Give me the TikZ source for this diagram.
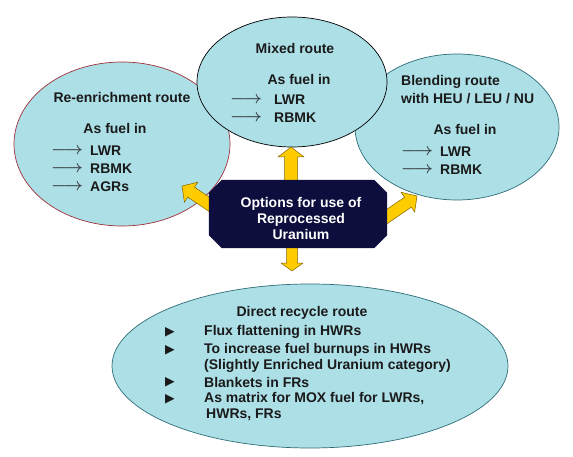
\documentclass[tikz,border=0pt]{standalone}
\usepackage{fontspec}
\setmainfont{Liberation Sans}
\newfontfamily\djv{DejaVu Sans}
\usetikzlibrary{shapes.geometric,calc}
\definecolor{fillc}{HTML}{ADDFE7}
\definecolor{redb}{HTML}{A0303A}
\definecolor{tealb}{HTML}{2E6E78}
\definecolor{navy}{HTML}{0E0E3E}
\definecolor{yel}{HTML}{FFCC00}
\definecolor{yelb}{HTML}{806600}
\definecolor{textc}{HTML}{1A1A1A}
\definecolor{glyc}{HTML}{3F4A4E}
\newcommand\fatarrow[5]{% tail, tip, halfshaft, halfhead, headlen
  \coordinate (#1h) at ($(#2)!#5pt!(#1)$);
  \draw[fatarr] ($(#1)!#3pt!90:(#2)$) -- ($(#1h)!#3pt!90:(#2)$) -- ($(#1h)!#4pt!90:(#2)$) -- (#2)
    -- ($(#1h)!#4pt!-90:(#2)$) -- ($(#1h)!#3pt!-90:(#2)$) -- ($(#1)!#3pt!-90:(#2)$) -- cycle;}
\begin{document}
\begin{tikzpicture}[x=1pt,y=-1pt,
  font=\fontsize{14}{16}\selectfont\bfseries,
  route/.style={ellipse, fill=fillc, line width=0.7pt, inner sep=0pt},
  txt/.style={text=textc, inner sep=0pt},
  lft/.style={txt, anchor=west},
  gly/.style={text=glyc, inner sep=0pt, anchor=west, font=\fontsize{16}{16}\selectfont\boldmath},
  tri/.style={text=textc, inner sep=0pt, font=\djv\fontsize{12.5}{12.5}\selectfont},
  fatarr/.style={fill=yel, draw=yelb, line width=0.5pt, line join=miter}]
\useasboundingbox (0,0) rectangle (573,457);
\fill[white] (0,0) rectangle (573,457);

% ellipses
\node[route, draw=redb, minimum width=216pt, minimum height=164pt] (re) at (122,144) {};
\node[route, draw=tealb, minimum width=204pt, minimum height=146pt] (bl) at (457,127) {};
\node[route, draw=black, minimum width=190pt, minimum height=130pt] (mx) at (292,82) {};
\node[route, draw=tealb, minimum width=396pt, minimum height=164pt] (dr) at (310,366) {};

% arrows
\coordinate (upS) at (291,188); \coordinate (upT) at (291,147);
\coordinate (dnS) at (292,242); \coordinate (dnT) at (292,271);
\coordinate (lfS) at (222,213); \coordinate (lfT) at (182,186);
\coordinate (rtS) at (376,224); \coordinate (rtT) at (417,196);
\fatarrow{upS}{upT}{6.5}{13}{10}
\fatarrow{dnS}{dnT}{5.5}{11}{8}
\fatarrow{lfS}{lfT}{6}{12}{11}
\fatarrow{rtS}{rtT}{6}{12}{11}

% octagon
\node[inner sep=0pt, minimum width=178pt, minimum height=68pt] (opt) at (298,214) {};
\fill[navy] ($(opt.north west)+(13,0)$) -- ($(opt.north east)+(-13,0)$) -- ($(opt.north east)+(0,13)$)
  -- ($(opt.south east)+(0,-13)$) -- ($(opt.south east)+(-13,0)$) -- ($(opt.south west)+(13,0)$)
  -- ($(opt.south west)+(0,-13)$) -- ($(opt.north west)+(0,13)$) -- cycle;
\node[text=white, align=center, inner sep=0pt] (optt) at (301,218) {Options for use of\\Reprocessed\\Uranium};

% re-enrichment
\node[txt] (reT) at (122,97) {Re-enrichment route};
\node[txt] (reA) at (115,128) {As fuel in};
\node[gly] (reg1) at (51,151) {\(\longrightarrow\)};
\node[gly] (reg2) at (51,169) {\(\longrightarrow\)};
\node[gly] (reg3) at (51,187) {\(\longrightarrow\)};
\node[lft] (re1) at (90,151) {LWR};
\node[lft] (re2) at (90,169) {RBMK};
\node[lft] (re3) at (90,187) {AGRs};

% mixed
\node[txt] (mxT) at (295,48) {Mixed route};
\node[txt] (mxA) at (299,79) {As fuel in};
\node[gly] (mxg1) at (230,100) {\(\longrightarrow\)};
\node[gly] (mxg2) at (230,118) {\(\longrightarrow\)};
\node[lft] (mx1) at (274,100) {LWR};
\node[lft] (mx2) at (274,118) {RBMK};

% blending
\node[lft] (blT1) at (401,82) {Blending route};
\node[lft] (blT2) at (401,99) {with HEU / LEU / NU};
\node[txt] (blA) at (465,129) {As fuel in};
\node[gly] (blg1) at (401,152) {\(\longrightarrow\)};
\node[gly] (blg2) at (401,170) {\(\longrightarrow\)};
\node[lft] (bl1) at (440,152) {LWR};
\node[lft] (bl2) at (440,170) {RBMK};

% direct recycle
\node[txt] (drT) at (302,313) {Direct recycle route};
\node[tri] (t1) at (170,332) {▶};
\node[tri] (t2) at (170,350) {▶};
\node[tri] (t3) at (170,382) {▶};
\node[tri] (t4) at (170,399) {▶};
\node[lft] (d1) at (204,332) {Flux flattening in HWRs};
\node[lft] (d2) at (204,350) {To increase fuel burnups in HWRs};
\node[lft] (d3) at (204,366) {(Slightly Enriched Uranium category)};
\node[lft] (d4) at (204,382) {Blankets in FRs};
\node[lft] (d5) at (204,399) {As matrix for MOX fuel for LWRs,};
\node[lft] (d6) at (206,415) {HWRs, FRs};
\end{tikzpicture}
\end{document}
